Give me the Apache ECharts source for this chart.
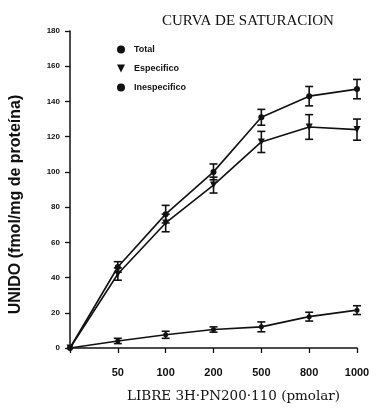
<!DOCTYPE html>
<html>
<head>
<meta charset="utf-8">
<script src="https://cdn.jsdelivr.net/npm/echarts@6/dist/echarts.min.js"></script>
<style>
  html, body { margin: 0; padding: 0; background: #fff; }
  #chart { width: 379px; height: 408px; }
</style>
</head>
<body>
<div id="chart"></div>
<script>
// concentraciones (pmolar)
const categories = ['0', '50', '100', '200', '500', '800', '1000']
const yTicks = [0, 20, 40, 60, 80, 100, 120, 140, 160, 180]

// fmol/mg de proteina
const total = [0, 46, 76, 100, 131, 143, 147]
const totalErr = [0, 3, 5, 4.5, 4.5, 5.5, 5.5]
const especifico = [0, 42, 71, 92.5, 117, 125.5, 124]
const especificoErr = [0, 3.5, 5, 4.5, 6, 7, 6]
const inespecifico = [0, 4, 7.5, 10.5, 12, 17.8, 21.5]
const inespecificoErr = [0, 1.5, 2, 1.5, 2.8, 2.5, 2.5]

const downTriangle = 'path://M0,0L10,0L5,10Z'

const chart = echarts.init(document.getElementById('chart'))

const errorSeries = (values, errs) => ({
  type: 'custom',
  silent: true,
  z: 3,
  data: values.map((v, i) => [i, v, errs[i]]),
  renderItem: (params, api) => {
    const i = api.value(0)
    const v = api.value(1)
    const e = api.value(2)
    if (!e) return null
    const hi = api.coord([i, v + e])
    const lo = api.coord([i, v - e])
    const w = 4
    const style = { stroke: '#111', lineWidth: 1.6 }
    return {
      type: 'group',
      children: [
        { type: 'line', shape: { x1: hi[0], y1: hi[1], x2: lo[0], y2: lo[1] }, style },
        { type: 'line', shape: { x1: hi[0] - w, y1: hi[1], x2: hi[0] + w, y2: hi[1] }, style },
        { type: 'line', shape: { x1: lo[0] - w, y1: lo[1], x2: lo[0] + w, y2: lo[1] }, style }
      ]
    }
  }
})

const lineSeries = (name, values, symbol, size) => ({
  name,
  type: 'line',
  data: values,
  symbol,
  symbolSize: size,
  showAllSymbol: true,
  z: 4,
  lineStyle: { color: '#111', width: 1.6 },
  itemStyle: { color: '#111' }
})

chart.setOption({
  animation: false,
  title: {
    text: 'CURVA DE SATURACION',
    left: 157,
    top: 9,
    textStyle: {
      fontFamily: 'Liberation Serif',
      fontSize: 15,
      fontWeight: 'normal',
      color: '#111'
    }
  },
  legend: {
    orient: 'vertical',
    left: 112,
    top: 40,
    itemGap: 10,
    itemWidth: 8,
    itemHeight: 8,
    textStyle: {
      fontFamily: 'Liberation Sans',
      fontSize: 9,
      fontWeight: 'bold',
      color: '#111',
      padding: [0, 0, 0, 4]
    },
    data: [
      { name: 'Total', icon: 'circle' },
      { name: 'Especifico', icon: downTriangle },
      { name: 'Inespecifico', icon: 'circle' }
    ]
  },
  grid: {
    left: 70,
    right: 22,
    top: 31,
    bottom: 60
  },
  xAxis: {
    type: 'category',
    data: categories,
    boundaryGap: false,
    name: 'LIBRE 3H·PN200·110 (pmolar)',
    nameLocation: 'middle',
    nameGap: 41,
    nameTextStyle: {
      fontFamily: 'DejaVu Serif',
      fontSize: 13.5,
      color: '#111',
      padding: [0, 0, 0, 40]
    },
    axisLine: { lineStyle: { color: '#111', width: 1.5 } },
    axisTick: { alignWithLabel: true, length: 5, lineStyle: { color: '#111', width: 1.3 } },
    axisLabel: {
      margin: 19,
      interval: 0,
      fontFamily: 'Liberation Sans',
      fontSize: 11,
      fontWeight: 'bold',
      color: '#111',
      formatter: v => (v === '0' ? '' : v)
    },
    splitLine: { show: false }
  },
  yAxis: {
    type: 'value',
    min: yTicks[0],
    max: yTicks[yTicks.length - 1],
    interval: yTicks[1] - yTicks[0],
    name: 'UNIDO (fmol/mg de proteína)',
    nameLocation: 'middle',
    nameGap: 46,
    nameTextStyle: {
      fontFamily: 'Liberation Sans',
      fontSize: 16,
      fontWeight: 'bold',
      color: '#111',
      padding: [0, 30, 0, 0]
    },
    axisLine: { show: true, lineStyle: { color: '#111', width: 1.5 } },
    axisTick: { show: true, length: 5, lineStyle: { color: '#111', width: 1.3 } },
    axisLabel: {
      margin: 10,
      fontFamily: 'Liberation Sans',
      fontSize: 8,
      fontWeight: 'bold',
      color: '#111'
    },
    splitLine: { show: false }
  },
  series: [
    lineSeries('Total', total, 'circle', 6),
    lineSeries('Especifico', especifico, downTriangle, 7),
    lineSeries('Inespecifico', inespecifico, 'circle', 5),
    errorSeries(total, totalErr),
    errorSeries(especifico, especificoErr),
    errorSeries(inespecifico, inespecificoErr)
  ]
})
</script>
</body>
</html>
